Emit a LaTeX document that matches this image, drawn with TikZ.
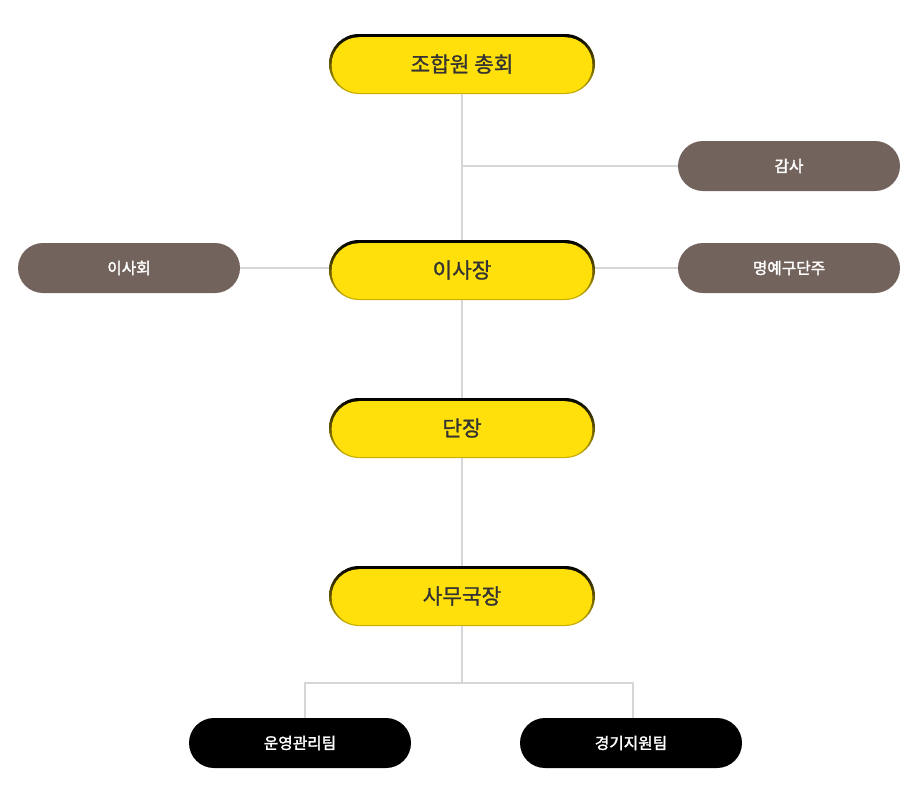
\documentclass[tikz,border=0pt]{standalone}
\usepackage{fontspec}
\setmainfont{Noto Sans CJK KR}
\newfontfamily\krmed[RawFeature={embolden=1.2}]{Noto Sans CJK KR}
\newfontfamily\krsemi[RawFeature={embolden=2}]{Noto Sans CJK KR}
\usetikzlibrary{positioning}
\definecolor{yel}{RGB}{255,224,10}
\definecolor{ydark}{RGB}{205,178,0}
\definecolor{brn}{RGB}{115,99,93}
\definecolor{txtgray}{RGB}{51,51,51}
\definecolor{linegray}{RGB}{214,214,214}
\tikzset{
	yelnode/.style={rectangle, rounded corners=22.5pt, minimum width=199.5pt, minimum height=45pt, top color=black, bottom color=ydark, text=txtgray, font=\krmed\fontsize{16}{18}\selectfont,
		path picture={\fill[yel, rounded corners=20.5pt] ([xshift=2pt,yshift=-2.4pt]path picture bounding box.north west) rectangle ([xshift=-2pt,yshift=0.8pt]path picture bounding box.south east);}},
	brnnode/.style={rectangle, rounded corners=18.75pt, fill=brn, text=white, minimum width=166.5pt, minimum height=37.5pt, font=\krsemi\fontsize{11.8}{13}\selectfont},
	blknode/.style={brnnode, fill=black},
	conn/.style={draw=linegray, line width=1.5pt}
}

\begin{document}
\begin{tikzpicture}[x=0.75pt, y=-0.75pt]
		\useasboundingbox (0,0) rectangle (919,807);
		\node[yelnode] at (462,64) (chonghoe)  {조합원 총회};
		\node[yelnode] at (462,270) (ijang)    {이사장};
		\node[yelnode] at (462,428) (danjang)  {단장};
		\node[yelnode] at (462,596) (samu)     {사무국장};
		\node[brnnode] at (789,166) (gamsa)    {감사};
		\node[brnnode] at (129,268) (isahoe)   {이사회};
		\node[brnnode] at (789,268) (myeongye) {명예구단주};
		\node[blknode] at (300,743) (unyeong)  {운영관리팀};
		\node[blknode] at (631,743) (gyeonggi) {경기지원팀};
		\coordinate (split) at (462,683);
		\draw[conn] (chonghoe.south) -- (ijang.north);
		\draw[conn] (gamsa.west) -- (gamsa.west -| chonghoe.south);
		\draw[conn] (isahoe.east) -- (isahoe.east -| ijang.west);
		\draw[conn] (myeongye.west) -- (myeongye.west -| ijang.east);
		\draw[conn] (ijang.south) -- (danjang.north);
		\draw[conn] (danjang.south) -- (samu.north);
		\draw[conn] (samu.south) -- (split);
		\draw[conn] (split) -| ([xshift=3.75pt]unyeong.north);
		\draw[conn] (split) -| ([xshift=1.5pt]gyeonggi.north);
	\end{tikzpicture}
\end{document}
